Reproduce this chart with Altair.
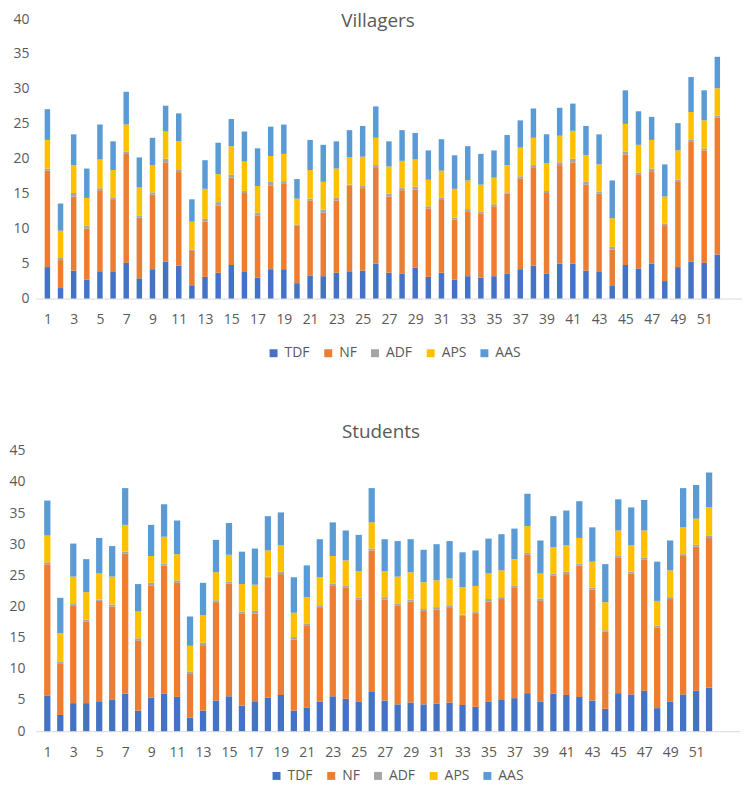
import altair as alt
import pandas as pd

days = list(range(1, 53))
series = ["TDF", "NF", "ADF", "APS", "AAS"]
colors = ["#4472C4", "#ED7D31", "#A5A5A5", "#FFC000", "#5B9BD5"]
x_labels = list(range(1, 52, 2))

# Villagers
vil_tdf = [4.5, 1.5, 4.0, 2.7, 3.9, 3.8, 5.1, 2.9, 4.2, 5.3, 4.7, 1.9, 3.1, 3.7, 4.8, 3.8, 3.0, 4.2, 4.2, 2.2,
           3.3, 3.2, 3.7, 3.9, 4.0, 5.0, 3.7, 3.6, 4.4, 3.1, 3.7, 2.7, 3.2, 3.0, 3.2, 3.6, 4.2, 4.7, 3.6, 5.0,
           5.0, 4.0, 3.8, 1.8, 4.8, 4.3, 5.0, 2.5, 4.5, 5.3, 5.1, 6.3]
vil_nf = [13.8, 4.0, 10.6, 7.3, 11.6, 10.3, 15.6, 8.7, 10.7, 14.2, 13.4, 4.9, 7.9, 9.6, 12.5, 11.3, 8.9, 12.0, 12.3, 8.2,
          10.7, 9.1, 10.3, 12.2, 11.8, 13.8, 10.9, 11.9, 11.2, 9.8, 10.4, 8.6, 9.2, 9.2, 10.0, 11.4, 13.0, 14.1, 11.5, 14.1,
          14.5, 12.3, 11.2, 5.2, 15.8, 13.4, 13.1, 8.0, 12.3, 17.1, 16.1, 19.6]
vil_adf = [0.3, 0.3, 0.5, 0.4, 0.3, 0.3, 0.3, 0.3, 0.3, 0.5, 0.4, 0.2, 0.4, 0.5, 0.4, 0.3, 0.4, 0.5, 0.3, 0.2,
           0.3, 0.4, 0.4, 0.2, 0.3, 0.3, 0.4, 0.3, 0.4, 0.3, 0.3, 0.3, 0.4, 0.2, 0.3, 0.2, 0.3, 0.3, 0.3, 0.4,
           0.5, 0.4, 0.3, 0.4, 0.4, 0.3, 0.5, 0.2, 0.2, 0.3, 0.3, 0.3]
vil_aps = [4.1, 3.9, 4.0, 4.0, 4.1, 4.0, 3.9, 4.0, 3.9, 3.9, 4.0, 4.0, 4.3, 4.0, 4.1, 4.2, 3.8, 3.7, 3.9, 3.7,
           4.1, 4.0, 4.2, 3.9, 4.2, 3.9, 3.9, 3.9, 3.9, 3.8, 3.9, 4.1, 4.1, 3.9, 3.8, 3.9, 4.1, 3.9, 4.0, 3.8,
           4.0, 3.8, 3.9, 4.1, 4.0, 4.0, 4.1, 3.9, 4.2, 4.0, 4.0, 3.9]
vil_aas = [4.4, 3.9, 4.4, 4.2, 5.0, 4.1, 4.7, 4.3, 3.9, 3.7, 4.0, 3.2, 4.1, 4.5, 3.9, 4.3, 5.4, 4.2, 4.2, 2.8,
           4.3, 5.3, 3.9, 3.9, 4.4, 4.5, 3.6, 4.4, 3.8, 4.2, 4.5, 4.8, 4.9, 4.4, 3.9, 4.3, 3.9, 4.2, 4.1, 4.0,
           3.9, 4.2, 4.3, 5.4, 4.8, 4.8, 3.3, 4.6, 3.9, 5.0, 4.3, 4.5]

# Students
stu_tdf = [5.7, 2.6, 4.5, 4.5, 4.8, 5.1, 6.0, 3.3, 5.4, 6.0, 5.5, 2.2, 3.3, 4.9, 5.6, 4.1, 4.8, 5.4, 5.8, 3.3,
           3.8, 4.7, 5.6, 5.2, 4.7, 6.4, 4.9, 4.3, 4.6, 4.3, 4.4, 4.6, 4.2, 3.9, 4.7, 5.0, 5.3, 6.1, 4.7, 6.0,
           5.8, 5.5, 4.9, 3.6, 6.1, 5.9, 6.5, 3.7, 4.7, 5.9, 6.5, 7.0]
stu_nf = [21.1, 8.3, 15.6, 13.1, 16.1, 14.9, 22.5, 11.2, 18.0, 20.6, 18.3, 7.1, 10.5, 15.8, 18.1, 14.8, 14.1, 19.2, 19.4, 11.4,
          13.2, 15.2, 17.7, 17.8, 16.4, 22.6, 16.2, 15.9, 16.2, 15.0, 15.1, 15.3, 14.3, 14.9, 16.1, 16.2, 17.8, 22.2, 16.2, 19.0,
          19.4, 21.1, 17.8, 12.4, 21.7, 19.4, 21.0, 12.9, 16.5, 22.2, 23.1, 24.0]
stu_adf = [0.3, 0.3, 0.3, 0.3, 0.2, 0.3, 0.3, 0.4, 0.4, 0.3, 0.4, 0.3, 0.4, 0.3, 0.3, 0.3, 0.4, 0.2, 0.4, 0.4,
           0.3, 0.3, 0.4, 0.3, 0.3, 0.3, 0.4, 0.3, 0.3, 0.3, 0.4, 0.3, 0.2, 0.3, 0.4, 0.3, 0.3, 0.3, 0.4, 0.3,
           0.4, 0.3, 0.3, 0.2, 0.3, 0.3, 0.3, 0.3, 0.3, 0.3, 0.3, 0.4]
stu_aps = [4.3, 4.5, 4.4, 4.4, 4.2, 4.5, 4.3, 4.3, 4.3, 4.3, 4.2, 4.1, 4.4, 4.5, 4.3, 4.4, 4.2, 4.2, 4.2, 3.9,
           4.2, 4.5, 4.4, 4.1, 4.3, 4.2, 4.2, 4.3, 4.4, 4.3, 4.3, 4.3, 4.4, 4.2, 4.1, 4.3, 4.2, 4.3, 4.0, 4.2,
           4.2, 4.1, 4.2, 4.5, 4.1, 4.2, 4.4, 4.0, 4.3, 4.3, 4.2, 4.5]
stu_aas = [5.6, 5.7, 5.3, 5.3, 5.7, 4.9, 5.9, 4.4, 5.0, 5.2, 5.4, 4.7, 5.2, 5.2, 5.1, 5.2, 5.8, 5.5, 5.3, 5.7,
           5.1, 6.1, 5.4, 4.8, 5.8, 5.5, 5.1, 5.7, 5.3, 5.2, 5.8, 6.0, 5.6, 5.7, 5.6, 5.8, 4.9, 5.2, 5.3, 5.0,
           5.6, 5.9, 5.5, 6.1, 5.0, 6.1, 4.9, 6.3, 4.8, 6.3, 5.4, 5.6]

FONT = "Open Sans"
GREY = "#595959"


def long_table(vals_list):
    rows = []
    for k, (s, vals) in enumerate(zip(series, vals_list)):
        for d, v in zip(days, vals):
            rows.append({"day": d, "series": s, "k": k, "value": v})
    return pd.DataFrame(rows)


def panel(df, title, ymax, xmax, w, h, bar_w, ylabpad, tx, ty, lx, ly):
    x = alt.X("day:Q",
              scale=alt.Scale(domain=[0.5, xmax], nice=False, zero=False),
              axis=alt.Axis(values=x_labels, format="d", title=None, grid=False, ticks=False,
                            tickSize=0, labelPadding=14, labelFontSize=14, labelColor=GREY,
                            labelFont=FONT, domainColor="#D9D9D9", domainWidth=1,
                            labelFlush=False, labelOverlap=False))
    y = alt.Y("value:Q", stack="zero",
              scale=alt.Scale(domain=[0, ymax], nice=False),
              axis=alt.Axis(values=list(range(0, ymax + 1, 5)), title=None, grid=False,
                            ticks=False, tickSize=0, domain=False, labelPadding=ylabpad,
                            labelFontSize=14, labelColor=GREY, labelFont=FONT))
    color = alt.Color("series:N",
                      scale=alt.Scale(domain=series, range=colors),
                      legend=alt.Legend(title=None, orient="none", legendX=lx, legendY=ly,
                                        direction="horizontal", symbolType="square",
                                        symbolSize=64, symbolStrokeWidth=0,
                                        labelFontSize=14, labelColor=GREY, labelFont=FONT,
                                        columnPadding=11, labelOffset=4))
    bars = alt.Chart(df).mark_bar(size=bar_w).encode(
        x=x, y=y, color=color, order=alt.Order("k:Q", sort="ascending"))
    t = alt.Chart(pd.DataFrame({"t": [title]})).mark_text(
        font=FONT, fontSize=19, color=GREY, baseline="top", align="center"
    ).encode(text="t:N", x=alt.value(tx), y=alt.value(ty))
    return alt.layer(bars, t).properties(width=w, height=h)


vil = panel(long_table([vil_tdf, vil_nf, vil_adf, vil_aps, vil_aas]), "Villagers",
            40, 53.5, 710, 281, 5.5, 7, 344, -7, 232, 329)
stu = panel(long_table([stu_tdf, stu_nf, stu_adf, stu_aps, stu_aas]), "Students",
            45, 54.0, 708, 282, 6.3, 11, 347, -28, 235, 320)

chart = alt.vconcat(vil, stu, spacing=63).resolve_scale(color="independent").properties(
    padding={"top": 2, "left": 0, "right": 0, "bottom": 0}, background="white"
).configure_view(strokeWidth=0)

chart.save("out.html", embed_options={"renderer": "svg", "actions": False})
